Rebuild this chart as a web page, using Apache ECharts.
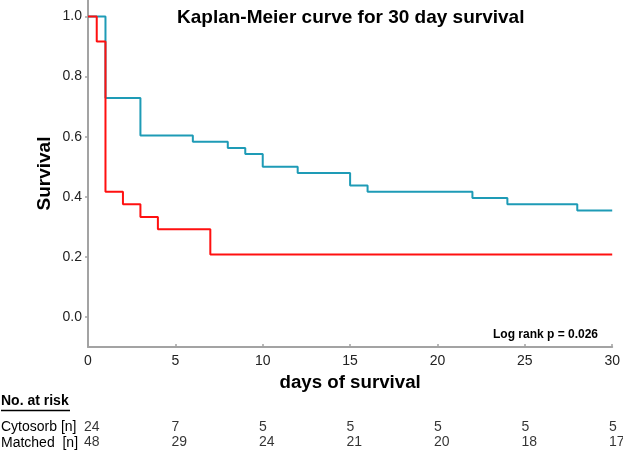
<!DOCTYPE html>
<html>
<head>
<meta charset="utf-8">
<script src="https://cdn.jsdelivr.net/npm/echarts@6/dist/echarts.min.js"></script>
<style>
  html, body { margin: 0; padding: 0; background: #fff; }
  #chart { width: 623px; height: 450px; }
</style>
</head>
<body>
<div id="chart"></div>
<script>
// 生存曲线数据 (day, survival)
const cytosorbCurve = [[0, 1], [0.5, 0.917], [1, 0.417], [2, 0.375], [3, 0.333], [4, 0.292], [7, 0.208], [30, 0.208]];
const matchedCurve = [[0, 1], [1, 0.729], [3, 0.604], [6, 0.583], [8, 0.5625], [9, 0.542], [10, 0.5], [12, 0.479],
    [15, 0.4375], [16, 0.417], [22, 0.396], [24, 0.375], [28, 0.354], [30, 0.354]];

// 风险人数表
const riskDays = [0, 5, 10, 15, 20, 25, 30];
const riskCytosorb = [24, 7, 5, 5, 5, 5, 5];
const riskMatched = [48, 29, 24, 21, 20, 18, 17];
const riskRows = ['Cytosorb [n]', 'Matched  [n]'];

const yTicks = [0, 0.2, 0.4, 0.6, 0.8, 1.0];

const axisGray = '#a3a3a3';
const font = 'Liberation Sans, Arial, sans-serif';

const chart = echarts.init(document.getElementById('chart'));

const riskData = [];
riskDays.forEach((d, i) => {
    riskData.push([d, 0, riskCytosorb[i]]);
    riskData.push([d, 1, riskMatched[i]]);
});

chart.setOption({
    animation: false,
    textStyle: { fontFamily: font },
    title: {
        text: 'Kaplan-Meier curve for 30 day survival',
        left: 172, top: 3,
        textStyle: { fontSize: 19, fontWeight: 'bold', color: '#000', fontFamily: font }
    },
    grid: [
        { left: 88, right: 10, top: 0, bottom: 103 },
        { left: 88, right: 10, top: 420, height: 32 }
    ],
    xAxis: [{
        gridIndex: 0,
        type: 'value', min: 0, max: 30, interval: 5,
        name: 'days of survival', nameLocation: 'middle', nameGap: 26,
        nameTextStyle: { fontSize: 18.7, fontWeight: 'bold', color: '#000', fontFamily: font },
        axisLine: { show: true, onZero: false, lineStyle: { color: axisGray, width: 2 } },
        axisTick: { show: true, inside: true, length: 3, lineStyle: { color: axisGray, width: 1.5 } },
        axisLabel: { fontSize: 14, color: '#222', margin: 7, fontFamily: font },
        splitLine: { show: false }
    }, {
        gridIndex: 1,
        type: 'value', min: 0, max: 30,
        show: false
    }],
    yAxis: [{
        gridIndex: 0,
        type: 'value', min: -0.1, max: 1.055,
        name: 'Survival', nameLocation: 'middle', nameGap: 34, nameMoveOverlap: false,
        nameTextStyle: { fontSize: 19, fontWeight: 'bold', color: '#000', fontFamily: font },
        axisLine: { show: true, onZero: false, lineStyle: { color: axisGray, width: 2 } },
        axisTick: { show: true, length: 3, customValues: yTicks, lineStyle: { color: axisGray, width: 1.5 } },
        axisLabel: {
            fontSize: 14, color: '#222', margin: 6, fontFamily: font,
            customValues: yTicks,
            formatter: v => v.toFixed(1)
        },
        splitLine: { show: false }
    }, {
        gridIndex: 1,
        type: 'category', data: riskRows, inverse: true,
        show: false
    }],
    series: [{
        name: 'Matched',
        type: 'line', step: 'end',
        xAxisIndex: 0, yAxisIndex: 0,
        data: matchedCurve,
        symbol: 'none',
        lineStyle: { color: '#1e9bb6', width: 2 }
    }, {
        name: 'Cytosorb',
        type: 'line', step: 'end',
        xAxisIndex: 0, yAxisIndex: 0,
        data: cytosorbCurve,
        symbol: 'none',
        lineStyle: { color: '#ff1010', width: 2 }
    }, {
        name: 'risk',
        type: 'scatter',
        xAxisIndex: 1, yAxisIndex: 1,
        data: riskData,
        symbolSize: 0,
        label: {
            show: true, position: 'inside', align: 'left', offset: [-4, 0],
            fontSize: 14, color: '#000', fontFamily: font,
            formatter: p => p.data[2]
        }
    }],
    graphic: [{
        type: 'text', left: 493, top: 329,
        style: { text: 'Log rank p = 0.026', font: 'bold 12px ' + font, fill: '#000' }
    }, {
        type: 'text', left: 1, top: 394,
        style: { text: 'No. at risk', font: 'bold 14px ' + font, fill: '#000' }
    }, {
        type: 'line', shape: { x1: 1, y1: 410.5, x2: 70, y2: 410.5 },
        style: { stroke: '#000', lineWidth: 1.5 }
    }, {
        type: 'text', left: 1, top: 420,
        style: { text: riskRows[0], font: '14px ' + font, fill: '#000' }
    }, {
        type: 'text', left: 1, top: 436,
        style: { text: riskRows[1], font: '14px ' + font, fill: '#000' }
    }]
});
</script>
</body>
</html>
